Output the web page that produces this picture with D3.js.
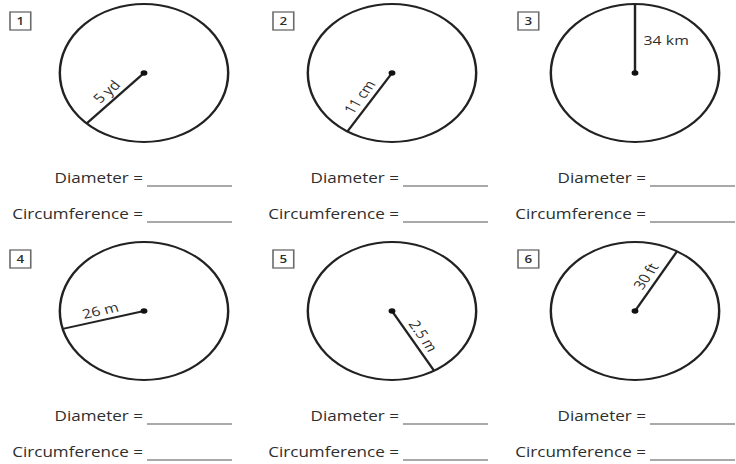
<!DOCTYPE html>
<html>
<head>
<meta charset="utf-8">
<script src="https://cdn.jsdelivr.net/npm/d3@7"></script>
<style>
  body { margin: 0; background: #fff; }
  text { font-family: "Open Sans", sans-serif; fill: #2e2e2e; }
</style>
</head>
<body>
<svg id="sheet"></svg>
<script>
// worksheet values
var problems = [1, 2, 3, 4, 5, 6];
var radiusLabels = ["5 yd", "11 cm", "34 km", "26 m", "2.5 m", "30 ft"];
// direction of the radius line, degrees (0 = right, 90 = down)
var radiusAngles = [133, 122, -90, 165, 60, -60];
var answerLabels = ["Diameter =", "Circumference ="];

var width = 736, height = 464;
// the scan is stretched sideways, so draw round and stretch the whole group
var sx = 1.22;
var radius = 69;

var svg = d3.select("svg#sheet").attr("width", width).attr("height", height);
svg.append("rect").attr("width", width).attr("height", height).attr("fill", "#fff");
var g = svg.append("g").attr("transform", "scale(" + sx + ",1)");

// column / row positions (screen px)
var colCenter = d3.scaleOrdinal().domain([0, 1, 2]).range([144, 392, 635]);
var colBox = d3.scaleOrdinal().domain([0, 1, 2]).range([10, 273, 518]);
var colLine = d3.scaleOrdinal().domain([0, 1, 2]).range([147, 403, 650]);
var rowCenter = d3.scaleOrdinal().domain([0, 1]).range([73, 311]);
var answerOffset = d3.scaleOrdinal().domain([0, 1]).range([110, 146]);

var data = problems.map(function(p, i) {
	return {
		num: p,
		label: radiusLabels[i],
		angle: radiusAngles[i],
		col: i % 3,
		row: Math.floor(i / 3)
	};
});

var panels = g.selectAll("g.panel").data(data).enter().append("g").classed("panel", true);

// numbered boxes
panels.append("rect")
	.attr("x", function(d) { return colBox(d.col) / sx; })
	.attr("y", function(d) { return rowCenter(d.row) - 61; })
	.attr("width", 17).attr("height", 18)
	.attr("fill", "none").attr("stroke", "#6a6a6a").attr("stroke-width", 1.3);

panels.append("text")
	.attr("x", function(d) { return colBox(d.col) / sx + 8.5; })
	.attr("y", function(d) { return rowCenter(d.row) - 48; })
	.attr("text-anchor", "middle").style("font-size", "11px").style("font-weight", "600")
	.text(function(d) { return d.num; });

// circles
panels.append("circle")
	.attr("cx", function(d) { return colCenter(d.col) / sx; })
	.attr("cy", function(d) { return rowCenter(d.row); })
	.attr("r", radius)
	.attr("fill", "none").attr("stroke", "#222").attr("stroke-width", 2);

function endPoint(d) {
	var a = d.angle * Math.PI / 180;
	return [colCenter(d.col) / sx + radius * Math.cos(a), rowCenter(d.row) + radius * Math.sin(a)];
}

// radius lines
panels.append("line")
	.attr("x1", function(d) { return colCenter(d.col) / sx; })
	.attr("y1", function(d) { return rowCenter(d.row); })
	.attr("x2", function(d) { return endPoint(d)[0]; })
	.attr("y2", function(d) { return endPoint(d)[1]; })
	.attr("stroke", "#222").attr("stroke-width", 2);

panels.append("circle")
	.attr("cx", function(d) { return colCenter(d.col) / sx; })
	.attr("cy", function(d) { return rowCenter(d.row); })
	.attr("r", 2.8).attr("fill", "#111");

// radius labels, laid along the line
function isVertical(d) {
	return Math.abs(Math.cos(d.angle * Math.PI / 180)) < 0.1;
}

panels.append("text")
	.style("font-size", "13px")
	.attr("transform", function(d) {
		var cx = colCenter(d.col) / sx, cy = rowCenter(d.row);
		var e = endPoint(d);
		var a = d.angle;
		if (isVertical(d)) {
			return "translate(" + (cx + 7) + "," + (cy - radius * 0.4) + ")";
		}
		var rot = Math.cos(a * Math.PI / 180) < 0 ? a + 180 : a;
		return "translate(" + ((cx + e[0]) / 2) + "," + ((cy + e[1]) / 2) + ") rotate(" + rot + ")";
	})
	.attr("y", function(d) { return isVertical(d) ? 0 : -5; })
	.attr("text-anchor", function(d) { return isVertical(d) ? "start" : "middle"; })
	.text(function(d) { return d.label; });

// answer lines
answerLabels.forEach(function(lbl, k) {
	panels.append("text")
		.attr("x", function(d) { return (colLine(d.col) - 4) / sx; })
		.attr("y", function(d) { return rowCenter(d.row) + answerOffset(k); })
		.attr("text-anchor", "end").style("font-size", "14px")
		.text(lbl);

	panels.append("line")
		.attr("x1", function(d) { return colLine(d.col) / sx; })
		.attr("x2", function(d) { return (colLine(d.col) + 85) / sx; })
		.attr("y1", function(d) { return rowCenter(d.row) + answerOffset(k) + 3; })
		.attr("y2", function(d) { return rowCenter(d.row) + answerOffset(k) + 3; })
		.attr("stroke", "#555").attr("stroke-width", 1);
});
</script>
</body>
</html>
